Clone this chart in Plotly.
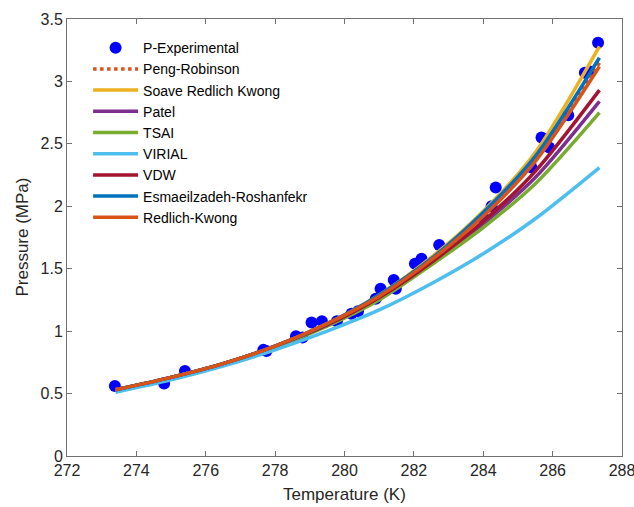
import plotly.graph_objects as go

# Experimental data
T_exp = [273.38, 274.80, 275.40, 277.66, 277.75, 278.60, 278.79, 279.05, 279.35, 279.78,
         280.20, 280.39, 280.90, 281.04, 281.42, 281.48, 282.03, 282.22, 282.73, 284.02,
         284.24, 284.36, 285.39, 285.68, 285.90, 286.45, 286.93, 287.07, 287.31]
P_exp = [0.56, 0.58, 0.68, 0.85, 0.84, 0.96, 0.95, 1.07, 1.08, 1.08,
         1.14, 1.16, 1.26, 1.34, 1.41, 1.34, 1.54, 1.58, 1.69, 1.90,
         2.00, 2.15, 2.31, 2.55, 2.47, 2.73, 3.07, 3.08, 3.31]

# Model curves (read at these temperatures)
T_model = [273.4, 275.0, 276.5, 278.0, 279.5, 281.0, 282.5, 284.0, 285.5, 287.35]
P_peng_robinson = [0.53, 0.63, 0.74, 0.88, 1.06, 1.28, 1.58, 1.93, 2.38, 3.15]
P_soave = [0.53, 0.63, 0.74, 0.88, 1.06, 1.29, 1.59, 1.96, 2.43, 3.28]
P_patel = [0.53, 0.63, 0.74, 0.88, 1.05, 1.26, 1.54, 1.86, 2.23, 2.84]
P_tsai = [0.53, 0.63, 0.74, 0.87, 1.04, 1.25, 1.53, 1.83, 2.18, 2.75]
P_virial = [0.51, 0.61, 0.72, 0.85, 1.00, 1.17, 1.38, 1.62, 1.90, 2.31]
P_vdw = [0.53, 0.63, 0.74, 0.88, 1.05, 1.27, 1.55, 1.88, 2.28, 2.93]
P_esm = [0.53, 0.63, 0.74, 0.88, 1.06, 1.29, 1.58, 1.95, 2.40, 3.19]
P_rk = [0.53, 0.63, 0.74, 0.88, 1.06, 1.28, 1.57, 1.92, 2.36, 3.12]

x_ticks = [272, 274, 276, 278, 280, 282, 284, 286, 288]
y_ticks = [0, 0.5, 1, 1.5, 2, 2.5, 3, 3.5]
y_tick_text = ["0", "0.5", "1", "1.5", "2", "2.5", "3", "3.5"]

fig = go.Figure()
fig.add_trace(go.Scatter(x=T_exp, y=P_exp, mode="markers", name="P-Experimental",
                         marker=dict(color="#0000ff", size=12)))

models = [
    ("Peng-Robinson", P_peng_robinson, "#D95319", "dot"),
    ("Soave Redlich Kwong", P_soave, "#EDB120", "solid"),
    ("Patel", P_patel, "#7E2F8E", "solid"),
    ("TSAI", P_tsai, "#77AC30", "solid"),
    ("VIRIAL", P_virial, "#4DBEEE", "solid"),
    ("VDW", P_vdw, "#A2142F", "solid"),
    ("Esmaeilzadeh-Roshanfekr", P_esm, "#0072BD", "solid"),
    ("Redlich-Kwong", P_rk, "#D95319", "solid"),
]
for name, vals, color, dash in models:
    fig.add_trace(go.Scatter(x=T_model, y=vals, mode="lines", name=name,
                             line=dict(color=color, width=3.5, dash=dash, shape="spline", smoothing=0.8)))

FONT = "Liberation Sans, Arial"
axis_common = dict(showline=True, linecolor="#707070", linewidth=1, mirror="ticks",
                   ticks="inside", ticklen=5, tickcolor="#707070", showgrid=False,
                   zeroline=False, automargin=False, ticklabeloverflow="allow",
                   tickfont=dict(family=FONT, size=16, color="#262626"))

fig.update_xaxes(range=[272, 288], tickvals=x_ticks, **axis_common)
fig.update_yaxes(range=[0, 3.5], tickvals=y_ticks, ticktext=y_tick_text, **axis_common)

title_font = dict(family=FONT, size=17, color="#262626")
fig.add_annotation(text="Temperature (K)", xref="paper", yref="paper", x=0.5, y=-0.089,
                   xanchor="center", yanchor="middle", showarrow=False, font=title_font)
fig.add_annotation(text="Pressure (MPa)", xref="paper", yref="paper", x=-0.081, y=0.5,
                   xanchor="center", yanchor="middle", showarrow=False, textangle=-90,
                   font=title_font)

fig.update_layout(
    width=634, height=507,
    margin=dict(l=67, r=12, t=19, b=51),
    plot_bgcolor="white", paper_bgcolor="white",
    legend=dict(x=0.038, y=0.97, xanchor="left", yanchor="top", bgcolor="rgba(0,0,0,0)",
                font=dict(family=FONT, size=14, color="#000000"),
                tracegroupgap=0, itemwidth=45),
    showlegend=True,
)

fig.write_html("out.html", config={"displayModeBar": False},
               post_script="document.body.style.margin='0px';")
